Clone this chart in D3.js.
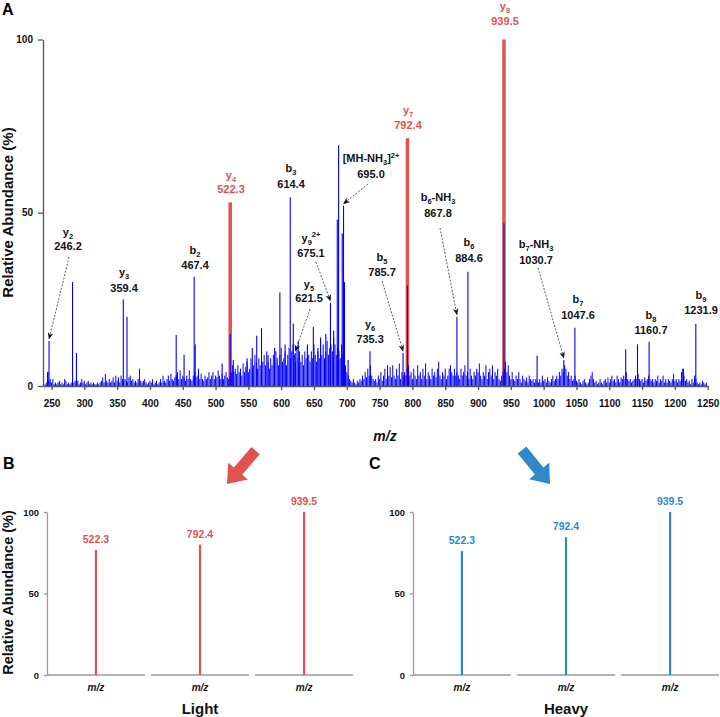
<!DOCTYPE html>
<html><head><meta charset="utf-8">
<script src="https://cdn.jsdelivr.net/npm/d3@7"></script>
<style>
body{margin:0;background:#fff}
text{font-family:"Liberation Sans",Arial,Helvetica,sans-serif;font-weight:bold}
</style>
</head><body>
<svg id="chart" width="720" height="717"></svg>
<script>
// ---------------- DATA ----------------
const xTicks = [250,300,350,400,450,500,550,600,650,700,750,800,850,900,950,1000,1050,1100,1150,1200,1250];
const yTicks = [0,50,100];

// red (quantified y ions) peaks: m/z, relative abundance
const redMz = [522.3, 792.4, 939.5];
const redAb = [53, 71.5, 100];

// major blue peaks [m/z, relative abundance]
const bluePeaks = [
  [244.5,4],[246.2,13],[282,30],[288,9.5],[359.4,25],[365,20],[440,14.7],[452,9],[467.4,31.5],[469,12],
  [510,6.5],[522.3,15],[527,7.5],[548,8],[556,11],[562.7,14.5],[570,16.7],[580,9],[590,11],[598,27],[606,12],
  [613.8,54.5],[618.5,18],[621.5,9.5],[626,13],[640,12],[649,17],[656,11],[660,14],[668,15],[675.1,24],[680,16],
  [685.5,48],[687.5,69.5],[693,44],[695,52],[696.5,30],[702,7.5],[735.3,10],[785.7,9.5],[792.4,29],[867.8,20],
  [884.6,33],[939.5,47],[990,8.7],[1030.7,7.5],[1047.6,16.8],[1125,10.6],[1143,12],[1160.7,12.8],[1213,5],[1231.9,18]
];

// low-level background peaks, one every 2 m/z starting at 238
const noiseStart = 238, noiseStep = 2;
const noise = [].concat(
  [0,0.5,1,4,1.5,2,1,2,0.5,1,0.5,1,1.5,0.5,1,0.5,2,1.5,0.5,1,0.5,1,0.5,1,1.5],
  [1,1.5,0.5,1,2,1,1.5,0.5,1,1.5,0.5,1,0.5,1,0.5,0.5,1,0.5,1,1.5,2.5,1,3.5,1.5,1],
  [2,1,1.5,2.5,1,3,1.5,2.5,1,3,2,1.5,2,1.5,1,2.5,3,1.5,2,1,1.5,1,2,5,1.5],
  [1,1.5,2,1,0.5,1,1.5,1,2,0.5,1,1.5,0.5,1,2,1,3,1.5,1,2,3,1.5,3.5,2,1.5],
  [2.5,3,4,2,4.5,2,3,2.5,1.5,3,2,4.5,2,1.5,3,4,2.5,3,5,2,3.5,2,1.5,3,2],
  [2.5,4,2,3,4,2,3,2.5,4.5,3,2,3.5,2,3,4,2.5,2,3,4,6,4,5,3.5,6,4],
  [5,3,6.5,4,5.5,7,4,5,8,5,6,9,7,5,8,6,5,7,9,6,10,7,5,8,6],
  [9,7,10,8,6,9,11,7,8,10,6,9,11,8,10,12,9,7,11,8,10,7,9,6,10],
  [8,11,9,7,10,8,12,9,7,10,8,11,9,12,8,10,13,9,11,12,10,14,12,9,11],
  [10,8,12,9,10,6,4,3,2,1.5,1,2,1,0.5,1.5,1,2,1.5,3,2,4,2.5,5,3,6],
  [3,2,1.5,2,1,3,2,4,1.5,3,5,2,6,3,5.5,2.5,6,3,2,5,3,6.5,2,4,3],
  [4,3,5,6,3,4,2,5,3,2,6,3,4,2,5,3,6.5,2,4,3,2,5,3,4,2.5],
  [5,7,3,2,4,3,5,2,3,5,6,4,3,5,3,4,3,2,5,3,4,6,3,4,2],
  [5,3,2,4,3,5,4,6.5,3,2,4,3,6,2,4,5,3,6,2,4,3,5,2,1.5,3],
  [4,5,7,4,6,3,2,4,2,1.5,3,2,4,2,1,3,2,1.5,2.5,1,3,2,1.5,2,1],
  [2,1.5,1,2,1,3,1.5,2,1,2.5,1.5,1,2,3,1.5,2,3,2,4,3,5,4,6,5,3],
  [4,2,3,1.5,2,3,1.5,1,2,1,0.5,1.5,2,1,0.5,1,2,3,4,2,1,1.5,0.5,1,2],
  [1,0.5,1.5,2,1,2.5,1,2,3,1.5,2,1,3,2,1,2.5,2,3,2,4,2,1.5,2,1,1.5],
  [2,3,2,3.5,2,1.5,2,1,2.5,1.5,2,3,2,1.5,2,1,2,1.5,3,1,2,1.5,3,1,2],
  [1,2,1.5,1,2,3.5,1.5,2,1,2,1.5,4,5,3,1.5,2,1,1.5,0.5,2,1,3,2,1,0.5],
  [1,0.5,1.5,1,0.5,1,0]
);

// ion annotations: name (with _sub / ^sup), value text, peak abundance, red?
const ionNames  = ["y_2","y_3","b_2","y_4","b_3","[MH-NH_3]^2+","y_9^2+","y_5","y_6","b_5","y_7","b_6-NH_3","b_6","y_8","b_7-NH_3","b_7","b_8","b_9"];
const ionValues = ["246.2","359.4","467.4","522.3","614.4","695.0","675.1","621.5","735.3","785.7","792.4","867.8","884.6","939.5","1030.7","1047.6","1160.7","1231.9"];
const ionPeakAb = [13,25,31.5,53,54.5,52,24,9.5,10,9.5,71.5,20,33,100,7.5,16.8,12.8,18];
const ionIsRed  = [false,false,false,true,false,false,false,false,false,false,true,false,false,true,false,false,false,false];

// quantification panels
const quantMz = ["522.3","792.4","939.5"];
const lightValues = [76.7, 80, 100];
const heavyValues = [76, 84.5, 100];

// ---------------- LAYOUT ----------------
const labelLayout = [
  {lx:275.1, ln:43.3, lv:39.2, arrowFrom:[276.7,37.2]},
  {lx:360.5, ln:31.7, lv:27.1},
  {lx:468.7, ln:38.1, lv:33.8},
  {lx:523.5, ln:59.7, lv:55.7},
  {lx:615.0, ln:61.8, lv:57.1},
  {lx:736.9, ln:64.6, lv:60.0, arrowFrom:[732.3,58.3]},
  {lx:645.4, ln:41.6, lv:37.2, arrowFrom:[653.0,35.8]},
  {lx:642.4, ln:28.3, lv:24.2, arrowFrom:[644.0,22.2]},
  {lx:735.4, ln:16.7, lv:12.4},
  {lx:753.7, ln:36.1, lv:31.7, arrowFrom:[753.7,30.3]},
  {lx:793.3, ln:78.5, lv:74.2},
  {lx:839.0, ln:53.4, lv:48.8, arrowFrom:[842.0,45.6]},
  {lx:886.2, ln:40.4, lv:35.8},
  {lx:941.1, ln:108.5, lv:104.2},
  {lx:988.4, ln:39.8, lv:35.2, arrowFrom:[991.4,34.1]},
  {lx:1052.4, ln:24.0, lv:19.3},
  {lx:1163.6, ln:19.3, lv:15.0},
  {lx:1239.8, ln:25.1, lv:20.8}
];

const RED = "#e05252", BLUE_Q = "#2f88c9", BLUE = "#0000ff";

const svg = d3.select("#chart");
const defs = svg.append("defs");
defs.append("marker").attr("id","ah").attr("viewBox","0 0 10 10")
  .attr("refX",9).attr("refY",5).attr("markerWidth",7).attr("markerHeight",7)
  .attr("markerUnits","userSpaceOnUse").attr("orient","auto")
  .append("path").attr("d","M0,1 L10,5 L0,9 L3,5 Z").attr("fill","#111");

function richText(sel, str, size){
  const parts = str.split(/(_[0-9]+|\^[0-9]+\+?)/).filter(s=>s);
  let cur = 0;
  parts.forEach(p=>{
    let target = 0, fs = size, t = p;
    if (p[0]==="_"){ target = size*0.3; fs = size*0.68; t = p.slice(1); }
    else if (p[0]==="^"){ target = -size*0.42; fs = size*0.68; t = p.slice(1); }
    sel.append("tspan").attr("dy", target-cur).attr("font-size", fs).text(t);
    cur = target;
  });
}

// ---------------- PANEL A ----------------
const x = d3.scaleLinear().domain([237,1250]).range([43,707.7]);
const y = d3.scaleLinear().domain([0,100]).range([386,39.5]);

const gA = svg.append("g");
gA.append("text").attr("x",2).attr("y",15).attr("font-size",16).text("A");

gA.selectAll("line.red").data(redMz).join("line")
  .attr("x1",d=>x(d)).attr("x2",d=>x(d)).attr("y1",y(0)).attr("y2",(d,i)=>y(redAb[i]))
  .attr("stroke",RED).attr("stroke-width",3.5);

gA.selectAll("line.noise").data(noise).join("line")
  .attr("x1",(d,i)=>x(noiseStart+i*noiseStep)).attr("x2",(d,i)=>x(noiseStart+i*noiseStep))
  .attr("y1",y(0)).attr("y2",d=>y(d)).attr("stroke",BLUE).attr("stroke-width",1);
gA.selectAll("line.blue").data(bluePeaks).join("line")
  .attr("x1",d=>x(d[0])).attr("x2",d=>x(d[0])).attr("y1",y(0)).attr("y2",d=>y(d[1]))
  .attr("stroke",BLUE).attr("stroke-width",1.1);

const xAxis = gA.append("g").attr("transform",`translate(0,${y(0)})`)
  .call(d3.axisBottom(x).tickValues(xTicks).tickFormat(d3.format("d")).tickSize(4).tickSizeOuter(0).tickPadding(10));
const yAxis = gA.append("g").attr("transform",`translate(${x(237)},0)`)
  .call(d3.axisLeft(y).tickValues(yTicks).tickFormat(d3.format("d")).tickSize(5).tickSizeOuter(0).tickPadding(5));
[xAxis,yAxis].forEach(a=>{
  a.selectAll("path,line").attr("stroke","#555").attr("stroke-width",1.3);
  a.selectAll("text").attr("font-size",10).attr("fill","#111")
   .attr("font-family",'"Liberation Sans",Arial,sans-serif').attr("font-weight","bold");
});

gA.append("text").attr("transform","translate(13,212.5) rotate(-90)").attr("text-anchor","middle")
  .attr("font-size",15).attr("fill","#111").text("Relative Abundance (%)");
gA.append("text").attr("x",385).attr("y",441).attr("text-anchor","middle").attr("font-size",14)
  .attr("font-style","italic").attr("fill","#111").text("m/z");

ionNames.forEach((nm,i)=>{
  const L = labelLayout[i];
  const col = ionIsRed[i] ? RED : "#111";
  const t1 = gA.append("text").attr("x",x(L.lx)).attr("y",y(L.ln)).attr("text-anchor","middle").attr("fill",col);
  richText(t1, nm, 11);
  gA.append("text").attr("x",x(L.lx)).attr("y",y(L.lv)).attr("text-anchor","middle")
    .attr("font-size",11).attr("fill",col).text(ionValues[i]);
  if (L.arrowFrom){
    const mz = parseFloat(ionValues[i]);
    gA.append("line").attr("x1",x(L.arrowFrom[0])).attr("y1",y(L.arrowFrom[1]))
      .attr("x2",x(mz)).attr("y2",y(ionPeakAb[i]+0.6))
      .attr("stroke","#333").attr("stroke-width",0.8).attr("stroke-dasharray","2,1.5")
      .attr("marker-end","url(#ah)");
  }
});

// ---------------- BIG ARROWS ----------------
function bigArrow(tipX, tipY, angle, color){
  const pts = [[0,0],[-17,-13],[-17,-5.5],[-44,-5.5],[-44,5.5],[-17,5.5],[-17,13]];
  svg.append("polygon").attr("points",pts.map(p=>p.join(",")).join(" "))
    .attr("transform",`translate(${tipX},${tipY}) rotate(${angle})`).attr("fill",color);
}
bigArrow(227,484,130.6,RED);
bigArrow(550,484,50.5,BLUE_Q);

// ---------------- PANELS B & C ----------------
function quantPanel(x0, letter, values, color, title, withYLabel){
  const g = svg.append("g");
  const yq = d3.scaleLinear().domain([0,100]).range([675,512]);
  const xb = d3.scaleBand().domain(quantMz).range([x0, x0+306]).paddingInner(0.06);
  g.append("text").attr("x",x0-44).attr("y",469).attr("font-size",16).text(letter);
  const ya = g.append("g").attr("transform",`translate(${x0},0)`)
    .call(d3.axisLeft(yq).tickValues(yTicks).tickSize(3).tickSizeOuter(0).tickPadding(5));
  ya.selectAll("path,line").attr("stroke","#999").attr("stroke-width",1.3);
  ya.selectAll("text").attr("font-size",9.5).attr("fill","#111")
    .attr("font-family",'"Liberation Sans",Arial,sans-serif').attr("font-weight","bold");
  g.selectAll("line.seg").data(quantMz).join("line")
    .attr("x1",d=>xb(d)).attr("x2",d=>xb(d)+xb.bandwidth()).attr("y1",yq(0)).attr("y2",yq(0))
    .attr("stroke","#999").attr("stroke-width",1.3);
  g.selectAll("line.pk").data(quantMz).join("line")
    .attr("x1",d=>xb(d)+xb.bandwidth()/2).attr("x2",d=>xb(d)+xb.bandwidth()/2)
    .attr("y1",yq(0)).attr("y2",(d,i)=>yq(values[i])).attr("stroke",color).attr("stroke-width",2.2);
  g.selectAll("text.pl").data(quantMz).join("text")
    .attr("x",d=>xb(d)+xb.bandwidth()/2).attr("y",(d,i)=>yq(values[i])-7)
    .attr("text-anchor","middle").attr("font-size",10.5).attr("fill",color).text(d=>d);
  g.selectAll("text.mz").data(quantMz).join("text")
    .attr("x",d=>xb(d)+xb.bandwidth()/2).attr("y",691).attr("text-anchor","middle")
    .attr("font-size",10).attr("font-style","italic").attr("fill","#111").text("m/z");
  g.append("text").attr("x",x0+153).attr("y",714).attr("text-anchor","middle")
    .attr("font-size",15).attr("fill","#111").text(title);
  if (withYLabel){
    g.append("text").attr("transform","translate(13,592.5) rotate(-90)").attr("text-anchor","middle")
      .attr("font-size",14.5).attr("fill","#111").text("Relative Abundance (%)");
  }
}
quantPanel(47,"B",lightValues,RED,"Light",true);
quantPanel(413,"C",heavyValues,BLUE_Q,"Heavy",false);
</script>
</body></html>
